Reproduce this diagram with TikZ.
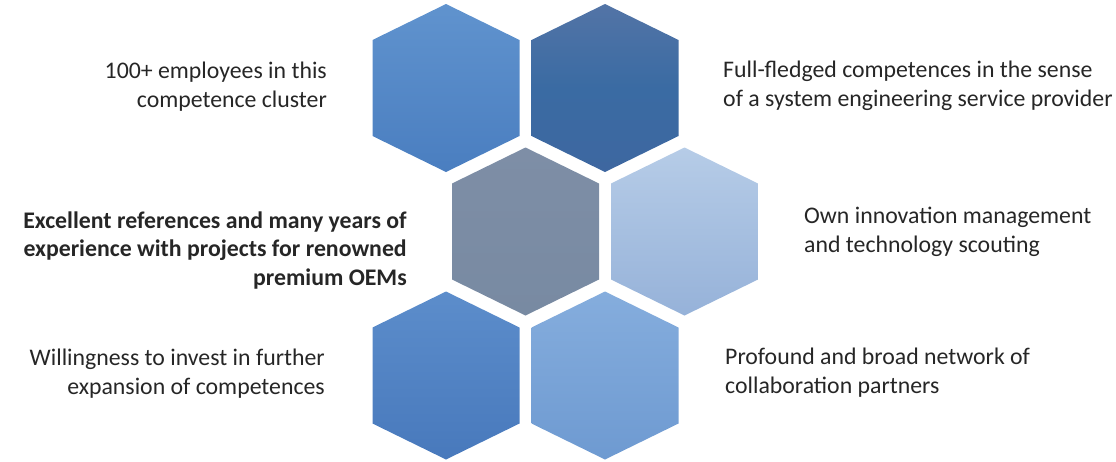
\documentclass[tikz,border=0pt]{standalone}
\usepackage{fontspec}
\setmainfont{Carlito}
\definecolor{txt}{HTML}{262626}
\definecolor{tlA}{HTML}{6093CE}\definecolor{tlB}{HTML}{4A7EC0}
\definecolor{trA}{HTML}{5374A6}\definecolor{trM}{HTML}{3A6BA3}\definecolor{trB}{HTML}{3E67A0}
\definecolor{mA}{HTML}{7E8EA6}\definecolor{mB}{HTML}{788AA2}
\definecolor{mrA}{HTML}{B6CCE7}\definecolor{mrB}{HTML}{96B2D9}
\definecolor{blA}{HTML}{5C8DCB}\definecolor{blB}{HTML}{4879BC}
\definecolor{brA}{HTML}{85ADDD}\definecolor{brB}{HTML}{6E9AD1}
\tikzset{
  lbl/.style={font=\fontsize{23.8}{28.5}\selectfont, text=txt, inner sep=0pt},
  lblL/.style={lbl, align=right, anchor=base east},
  lblR/.style={lbl, align=left, anchor=base west},
}
\newcommand{\hexcell}[5]{%
  \coordinate (#1) at (#2,#3);
  \shade[top color=#4, bottom color=#5, shift={(#1)}]
    (0,-84) -- (73.5,-48) -- (73.5,48) -- (0,84) -- (-73.5,48) -- (-73.5,-48) -- cycle;
}
\begin{document}
\begin{tikzpicture}[x=1pt,y=-1pt]
\useasboundingbox (0,0) rectangle (1116,461);
\hexcell{hTL}{446}{88}{tlA}{tlB}
\shade[top color=trA, bottom color=trB, middle color=trM]
  (605,4) -- (678.5,40) -- (678.5,136) -- (605,172) -- (531.5,136) -- (531.5,40) -- cycle;
\coordinate (hTR) at (605,88);
\hexcell{hM}{525.5}{231.5}{mA}{mB}
\hexcell{hMR}{684.5}{231.5}{mrA}{mrB}
\hexcell{hBL}{446}{375.5}{blA}{blB}
\hexcell{hBR}{605}{375.5}{brA}{brB}

\node[lblL] (tTL) at (327,107) {100+ employees in this\\competence cluster};
\node[lblR] (tTR) at (723,106) {Full-fledged competences in the sense\\of a system engineering service provider};
\node[lblL, font=\fontsize{23.8}{28.5}\selectfont\bfseries] (tM) at (407,285) {Excellent references and many years of\\experience with projects for renowned\\premium OEMs};
\node[lblR] (tMR) at (804,252) {Own innovation management\\and technology scouting};
\node[lblL] (tBL) at (325,394) {Willingness to invest in further\\expansion of competences};
\node[lblR] (tBR) at (725,393) {Profound and broad network of\\collaboration partners};
\end{tikzpicture}
\end{document}
